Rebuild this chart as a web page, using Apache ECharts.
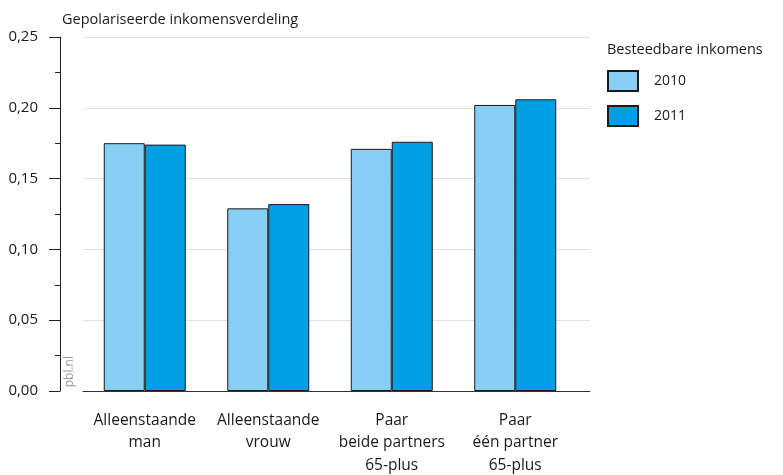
<!DOCTYPE html>
<html><head><meta charset="utf-8">
<script src="https://cdn.jsdelivr.net/npm/echarts@6/dist/echarts.min.js"></script>
<style>html,body{margin:0;padding:0;background:#fff}#c{width:783px;height:475px}</style>
</head><body><div id="c"></div>
<script>
var categories = ['Alleenstaande\nman', 'Alleenstaande\nvrouw', 'Paar\nbeide partners\n65-plus', 'Paar\néén partner\n65-plus'];
var values2010 = [0.175, 0.129, 0.171, 0.202];
var values2011 = [0.174, 0.132, 0.176, 0.206];
var yMin = 0, yMax = 0.25, yStep = 0.05;

var FONT = 'Open Sans';
var chart = echarts.init(document.getElementById('c'));
var gridBase = {top: 37, bottom: 84, outerBoundsMode: 'none', containLabel: false};
chart.setOption({
  animation: false,
  textStyle: {fontFamily: FONT},
  title: [
    {text: 'Gepolariseerde inkomensverdeling', left: 57, top: 7, textStyle: {fontFamily: FONT, fontSize: 14.5, fontWeight: 'normal', color: '#1a1a1a'}},
    {text: 'Besteedbare inkomens', left: 602, top: 37, textStyle: {fontFamily: FONT, fontSize: 14.5, fontWeight: 'normal', color: '#1a1a1a'}}
  ],
  legend: {
    orient: 'vertical', left: 607, top: 70, itemWidth: 30, itemHeight: 20, itemGap: 13, padding: 0,
    icon: 'rect',
    textStyle: {fontFamily: FONT, fontSize: 14, color: '#1a1a1a', padding: [0, 0, 0, 11]},
    data: ['2010', '2011']
  },
  graphic: [{
    type: 'text', left: 64, top: 356, rotation: Math.PI / 2,
    style: {text: 'pbl.nl', fill: '#999', font: '12px ' + FONT}
  }],
  grid: [
    Object.assign({left: 83, right: 206}, gridBase),
    Object.assign({left: 83, right: 193}, gridBase),
    Object.assign({left: 60, right: 193}, gridBase)
  ],
  xAxis: [
    {type: 'category', gridIndex: 0, data: categories,
     axisLine: {show: false}, axisTick: {show: false},
     axisLabel: {interval: 0, fontFamily: FONT, fontSize: 15.5, color: '#1a1a1a', lineHeight: 22.5, margin: 18}},
    {type: 'category', gridIndex: 1, data: [''],
     axisLine: {show: true, lineStyle: {color: '#333', width: 1}}, axisTick: {show: false}, axisLabel: {show: false}},
    {type: 'category', gridIndex: 2, data: [''], show: false}
  ],
  yAxis: [
    {type: 'value', gridIndex: 0, min: yMin, max: yMax, interval: yStep, show: false},
    {type: 'value', gridIndex: 1, min: yMin, max: yMax, interval: yStep,
     axisLine: {show: false}, axisTick: {show: false}, axisLabel: {show: false},
     splitLine: {show: true, lineStyle: {color: '#e0e0e0'}}},
    {type: 'value', gridIndex: 2, min: yMin, max: yMax, interval: yStep,
     axisLine: {show: true, lineStyle: {color: '#222'}},
     axisTick: {show: true, length: 11, lineStyle: {color: '#222'}},
     minorTick: {show: true, splitNumber: 2, length: 5, lineStyle: {color: '#222'}},
     splitLine: {show: false},
     axisLabel: {fontFamily: FONT, fontSize: 15, color: '#1a1a1a', margin: 22,
       formatter: function (v) { return v.toFixed(2).replace('.', ','); }}}
  ],
  series: [
    {name: '2010', type: 'bar', xAxisIndex: 0, yAxisIndex: 0, data: values2010, barWidth: 41, barGap: '0%',
     itemStyle: {color: '#87cff5', borderColor: '#1a1a1a', borderWidth: 1}},
    {name: '2011', type: 'bar', xAxisIndex: 0, yAxisIndex: 0, data: values2011, barWidth: 41, barGap: '0%',
     itemStyle: {color: '#009fe3', borderColor: '#1a1a1a', borderWidth: 1}}
  ]
});
</script></body></html>
